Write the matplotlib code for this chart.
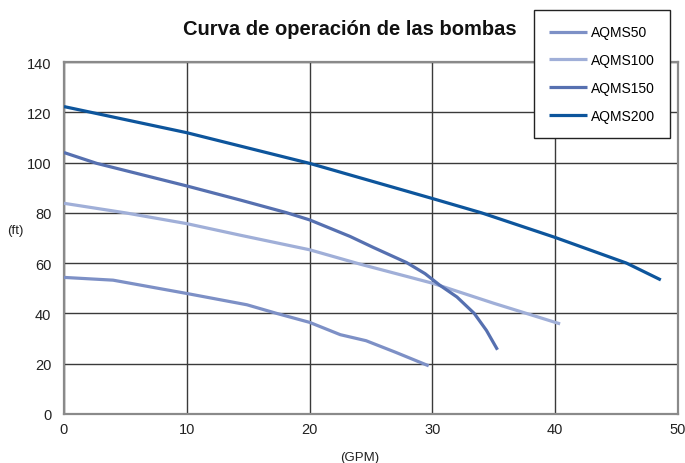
import matplotlib
matplotlib.use('Agg')
import matplotlib.pyplot as plt

plt.rcParams['font.family'] = ['Liberation Sans', 'DejaVu Sans']

# caudal (GPM) / altura (ft)
x_50 = [0, 4.0, 10, 14.9, 17.3, 20, 22.5, 24.6, 27.0, 29.7]
y_50 = [54.3, 53.2, 47.9, 43.4, 40.0, 36.4, 31.5, 29.1, 24.5, 19.1]

x_100 = [0, 5, 10, 14.35, 20, 24.1, 30, 35, 40.4]
y_100 = [83.8, 80.0, 75.7, 71.1, 65.3, 59.6, 52.0, 44.0, 35.8]

x_150 = [0, 2.66, 10, 14.35, 18.1, 20, 23.3, 25.2, 27.9, 29.4, 30.6, 32, 33.4, 34.4, 35.3]
y_150 = [104.0, 99.7, 90.7, 85.1, 80.1, 77.2, 70.6, 66.2, 60.2, 55.8, 51.2, 46.5, 40.0, 33.2, 25.5]

x_200 = [0, 10, 20, 30, 34, 40, 45.8, 48.6]
y_200 = [122.3, 111.9, 99.7, 85.7, 80.0, 70.2, 60.0, 53.3]

labels = ['AQMS50', 'AQMS100', 'AQMS150', 'AQMS200']
colores = ['#7d90c6', '#a0afd8', '#5670b0', '#0d559c']

x_ticks = [0, 10, 20, 30, 40, 50]
y_ticks = [0, 20, 40, 60, 80, 100, 120, 140]

fig = plt.figure(figsize=(6.85, 4.64), dpi=100)
ax = fig.add_axes([0.0934, 0.106, 0.8964, 0.758])

series = [(x_50, y_50), (x_100, y_100), (x_150, y_150), (x_200, y_200)]
for (xs, ys), lab, c in zip(series, labels, colores):
    ax.plot(xs, ys, color=c, lw=2.3, label=lab, solid_capstyle='butt',
            solid_joinstyle='round', zorder=3)

ax.set_xlim(0, 50)
ax.set_ylim(0, 140)
ax.set_xticks(x_ticks)
ax.set_yticks(y_ticks)
ax.grid(True, color='#3a3a3a', lw=1.0, zorder=1)
ax.tick_params(axis='y', length=0, labelsize=10.5, colors='#222222', pad=9)
ax.tick_params(axis='x', length=0, labelsize=10.5, colors='#222222', pad=6)
for s in ax.spines.values():
    s.set_color('#8a8a8a')
    s.set_linewidth(1.6)

fig.text(0.011, 0.502, '(ft)', fontsize=9.5, ha='left', va='center', color='#222222')
fig.text(0.525, 0.012, '(GPM)', fontsize=9.5, ha='center', va='center', color='#222222')
fig.text(0.511, 0.937, 'Curva de operación de las bombas', fontsize=14.5, fontweight='bold',
         ha='center', va='center', color='#111111')

leg = fig.legend(loc='upper left', bbox_to_anchor=(0.7796, 0.976), fontsize=10,
                 frameon=True, fancybox=False, edgecolor='#222222', framealpha=1,
                 handlelength=2.7, handletextpad=0.3, labelspacing=1.0,
                 borderpad=1.1, borderaxespad=0)
leg.get_frame().set_linewidth(1.0)
for l in leg.get_lines():
    l.set_linewidth(2.3)

fig.savefig('out.png', dpi=100)
